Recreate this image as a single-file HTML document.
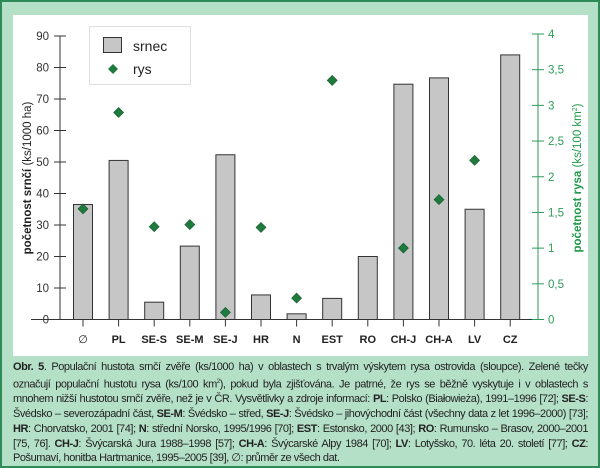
<!DOCTYPE html>
<html><head><meta charset="utf-8"><style>
body{margin:0;width:600px;height:468px;background:#b5e0c8;overflow:hidden;font-family:"Liberation Sans",sans-serif}
#frame{position:absolute;left:0;top:0;width:596px;height:464px;border:2px solid #2e8b57}
#panel{position:absolute;left:13px;top:15px;width:575px;height:341px;background:#fff}
#cap{position:absolute;left:13px;top:360px;width:575px;font-size:11px;line-height:14.8px;color:#222;text-align:justify;letter-spacing:-0.45px}
svg{position:absolute;left:0;top:0}
</style></head><body>
<div id="frame"></div>
<div id="panel"></div>
<svg id="chart" width="600" height="468"></svg>
<div id="cap"><b>Obr. 5</b>. Populační hustota srnčí zvěře (ks/1000 ha) v oblastech s trvalým výskytem rysa ostrovida (sloupce). Zelené tečky označují populační hustotu rysa (ks/100 km<sup style="font-size:6px">2</sup>), pokud byla zjišťována. Je patrné, že rys se běžně vyskytuje i v oblastech s mnohem nižší hustotou srnčí zvěře, než je v ČR. Vysvětlivky a zdroje informací: <b>PL</b>: Polsko (Białowieża), 1991–1996 [72]; <b>SE-S</b>: Švédsko – severozápadní část, <b>SE-M</b>: Švédsko – střed, <b>SE-J</b>: Švédsko – jihovýchodní část (všechny data z let 1996–2000) [73]; <b>HR</b>: Chorvatsko, 2001 [74]; <b>N</b>: střední Norsko, 1995/1996 [70]; <b>EST</b>: Estonsko, 2000 [43]; <b>RO</b>: Rumunsko – Brasov, 2000–2001 [75, 76]. <b>CH-J</b>: Švýcarská Jura 1988–1998 [57]; <b>CH-A</b>: Švýcarské Alpy 1984 [70]; <b>LV</b>: Lotyšsko, 70. léta 20. století [77]; <b>CZ</b>: Pošumaví, honitba Hartmanice, 1995–2005 [39], ∅: průměr ze všech dat.</div>
<script>
const categories=["∅","PL","SE-S","SE-M","SE-J","HR","N","EST","RO","CH-J","CH-A","LV","CZ"];
const srnec=[36.5,50.5,5.5,23.3,52.3,7.8,1.8,6.7,20,74.7,76.7,35,84];
const rys=[1.55,2.9,1.3,1.33,0.1,1.29,0.3,3.35,null,1.0,1.68,2.23,null];
const leftTicks=[0,10,20,30,40,50,60,70,80,90];
const rightTicks=["0","0,5","1","1,5","2","2,5","3","3,5","4"];
const NS="http://www.w3.org/2000/svg";
const svg=document.getElementById("chart");
function el(t,a,txt){const e=document.createElementNS(NS,t);for(const k in a)e.setAttribute(k,a[k]);if(txt!==undefined)e.textContent=txt;svg.appendChild(e);return e;}
const X0=60,X1=538,Y0=319.5,YT=36,YTR=34;
const yL=v=>Y0-(v/90)*(Y0-YT);
const yR=v=>Y0-(v/4)*(Y0-YTR);
const xC=i=>83+i*35.6;
let a=el("line",{x1:X0,y1:Y0,x2:X0,y2:YT,stroke:"#333","stroke-width":1});

a=el("line",{x1:31,y1:Y0,x2:X1,y2:Y0,stroke:"#333","stroke-width":1});

a=el("line",{x1:X1,y1:Y0,x2:X1,y2:YTR,stroke:"#2e9a5a","stroke-width":1});

leftTicks.forEach(v=>{const y=yL(v);
 el("line",{x1:X0-6,y1:y,x2:X0+6,y2:y,stroke:"#333"});
 const t=el("text",{x:X0-11,y:y+4,"text-anchor":"end","font-size":11.5,fill:"#333"},v);
 });
rightTicks.forEach((s,i)=>{const y=yR(i*0.5);
 el("line",{x1:X1-6,y1:y,x2:X1+6,y2:y,stroke:"#2e9a5a"});
 const t=el("text",{x:X1+10,y:y+4,"font-size":11.5,fill:"#2e9a5a"},s);
 });
categories.forEach((c,i)=>{const x=xC(i);
 el("line",{x1:x,y1:Y0,x2:x,y2:Y0+7,stroke:"#333"});
 const b=el("rect",{x:x-9.5,y:yL(srnec[i]),width:19,height:Y0-yL(srnec[i]),fill:"#c6c6c6",stroke:"#333","stroke-width":1});
 
 const t=el("text",{x:x,y:343,"text-anchor":"middle","font-size":11,"font-weight":i?"bold":"normal",fill:"#222"},c);
 
 if(rys[i]!==null){const y=yR(rys[i]);
  const d=el("polygon",{points:`${x},${y-5} ${x+5},${y} ${x},${y+5} ${x-5},${y}`,fill:"#1f7a3e",stroke:"#145a2c","stroke-width":0.6});
  }
});
let t=el("text",{transform:"translate(31,178) rotate(-90)","text-anchor":"middle","font-size":11.5,fill:"#222"});
t.innerHTML='<tspan font-weight="bold">početnost srnčí</tspan> (ks/1000 ha)';

t=el("text",{transform:"translate(581,178) rotate(-90)","text-anchor":"middle","font-size":11.5,fill:"#1f9a4a"});
t.innerHTML='<tspan font-weight="bold">početnost rysa</tspan> (ks/100 km<tspan font-size="7" dy="-4">2</tspan><tspan dy="4">)</tspan>';

const lg=el("rect",{x:89.5,y:26.5,width:101,height:58,fill:"#fff",stroke:"#ddd"});

el("rect",{x:103.5,y:37.5,width:18,height:15,fill:"#c6c6c6",stroke:"#333"});
t=el("text",{x:133,y:51,"font-size":14,fill:"#222"},"srnec");

el("polygon",{points:"113,64 118,69 113,74 108,69",fill:"#1f7a3e"});
t=el("text",{x:133,y:74,"font-size":14,fill:"#222"},"rys");

</script>
</body></html>
